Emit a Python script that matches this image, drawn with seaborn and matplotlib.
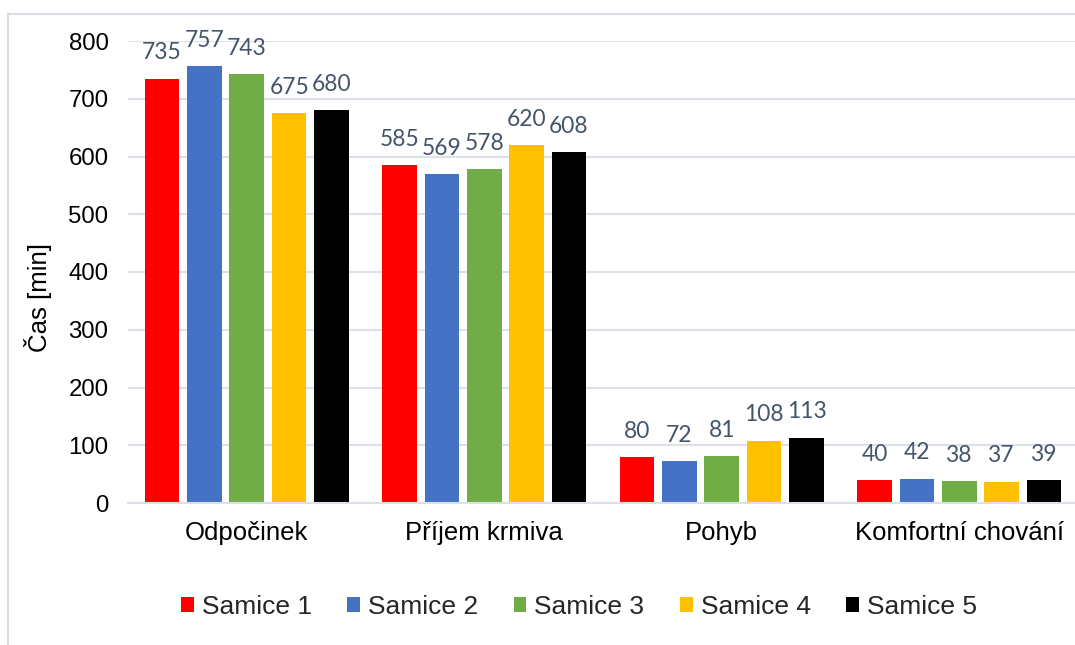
import matplotlib
matplotlib.use("Agg")
import matplotlib.pyplot as plt
from matplotlib.lines import Line2D
from matplotlib.patches import Patch
import seaborn as sns
import pandas as pd

# Chart data
categories = ["Odpočinek", "Příjem krmiva", "Pohyb", "Komfortní chování"]
series = ["Samice 1", "Samice 2", "Samice 3", "Samice 4", "Samice 5"]
samice_1 = [735, 585, 80, 40]
samice_2 = [757, 569, 72, 42]
samice_3 = [743, 578, 81, 38]
samice_4 = [675, 620, 108, 37]
samice_5 = [680, 608, 113, 39]
y_ticks = [0, 100, 200, 300, 400, 500, 600, 700, 800]

colors = ["#FF0000", "#4472C4", "#70AD47", "#FFC000", "#000000"]

values = [samice_1, samice_2, samice_3, samice_4, samice_5]
df = pd.DataFrame(
    [(c, s, v) for s, vals in zip(series, values) for c, v in zip(categories, vals)],
    columns=["kategorie", "samice", "cas"],
)

sns.set_theme(style="white")
plt.rcParams["font.family"] = ["Liberation Sans", "DejaVu Sans"]

W, H = 1075, 645
fig = plt.figure(figsize=(W / 100, H / 100), dpi=100)
ax = fig.add_axes([128 / W, 1 - 503 / H, 950 / W, 462 / H])

grid_col = "#DDE1E7"

sns.barplot(
    data=df, x="kategorie", y="cas", hue="samice",
    order=categories, hue_order=series, palette=colors,
    width=0.8925, gap=0.184, saturation=1, legend=False, ax=ax,
    edgecolor="none", linewidth=0,
)

ax.set_ylim(0, 800)
ax.set_xlim(-0.5, len(categories) - 0.5)
ax.set_yticks(y_ticks)
ax.yaxis.grid(True, color=grid_col, linewidth=1.5)
ax.set_axisbelow(True)
for side in ["top", "right", "left"]:
    ax.spines[side].set_visible(False)
ax.spines["bottom"].set_color(grid_col)
ax.spines["bottom"].set_linewidth(1.5)

ax.tick_params(axis="y", length=0, pad=14, labelsize=17.3, labelcolor="#000000")
ax.tick_params(axis="x", length=0, pad=13, labelsize=18.5, labelcolor="#000000")
ax.set_xlabel("")
ax.set_ylabel("Čas [min]", fontsize=18.5, color="#000000")
ax.yaxis.label.set_verticalalignment("center")
ax.yaxis.set_label_coords((38 - 128) / 950, (503 - 297) / 462)

# Value labels above each bar
for container in ax.containers:
    ax.bar_label(
        container, fmt="%d", padding=11, fontsize=16.4,
        color="#44546A", family=["Lato", "DejaVu Sans"],
    )

# Legend below the plot
handles = [Patch(facecolor=c, edgecolor="none") for c in colors]
fig.legend(
    handles, series, loc="center", bbox_to_anchor=(579 / W, 1 - 607 / H),
    ncol=5, frameon=False, fontsize=19, handlelength=0.48, handleheight=0.48,
    handletextpad=0.3, columnspacing=1.35,
)

# Light frame around the chart area
fig.add_artist(Line2D([8 / W, 1.0], [1 - 14 / H, 1 - 14 / H], color="#D9DDE3", linewidth=1.5))
fig.add_artist(Line2D([8 / W, 8 / W], [1 - 14 / H, 0.0], color="#D9DDE3", linewidth=1.5))

fig.savefig("out.png", dpi=100, facecolor="white")
